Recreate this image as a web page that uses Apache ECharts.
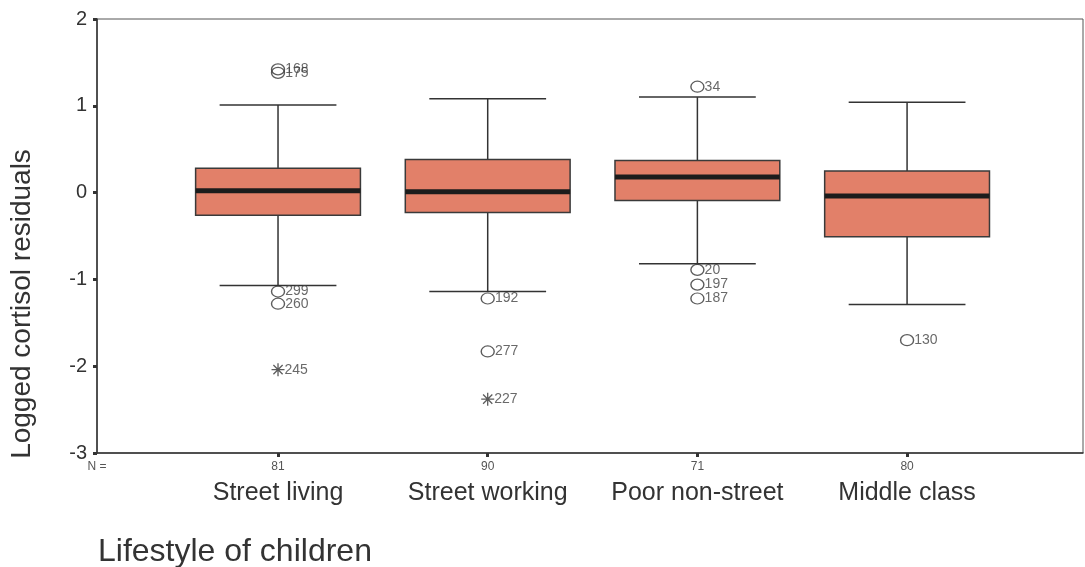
<!DOCTYPE html>
<html>
<head>
<meta charset="utf-8">
<script src="https://cdn.jsdelivr.net/npm/echarts@6/dist/echarts.min.js"></script>
<style>html,body{margin:0;padding:0;background:#fff}#c{width:1085px;height:567px}</style>
</head>
<body>
<div id="c"></div>
<script>
// ---- data ----
const categories = ['Street living', 'Street working', 'Poor non-street', 'Middle class'];
const nCounts = [81, 90, 71, 80];
const lowerWhisker = [-1.07, -1.14, -0.82, -1.29];
const q1 = [-0.26, -0.23, -0.09, -0.51];
const median = [0.02, 0.01, 0.18, -0.04];
const q3 = [0.28, 0.38, 0.37, 0.25];
const upperWhisker = [1.01, 1.08, 1.10, 1.04];
// outliers: [category index (1-based), value, case id]
const outliers = [
  [1, 1.42, '168'], [1, 1.38, '175'], [1, -1.14, '299'], [1, -1.28, '260'],
  [2, -1.22, '192'], [2, -1.83, '277'],
  [3, 1.22, '34'], [3, -0.89, '20'], [3, -1.06, '197'], [3, -1.22, '187'],
  [4, -1.70, '130']
];
const extremes = [[1, -2.04, '245'], [2, -2.38, '227']];
const yTicks = [-3, -2, -1, 0, 1, 2];

// ---- chart ----
const FONT = '"Liberation Sans", Arial, sans-serif';
const boxData = categories.map((c, i) => [i + 1, lowerWhisker[i], q1[i], median[i], q3[i], upperWhisker[i]]);
const chart = echarts.init(document.getElementById('c'));
const xMin = 0.1367, xMax = 4.839;
const star = 'path://M9,0 L11,0 L11,20 L9,20 Z M0,9 L20,9 L20,11 L0,11 Z M2.2,3.6 L3.6,2.2 L17.8,16.4 L16.4,17.8 Z M16.4,2.2 L17.8,3.6 L3.6,17.8 L2.2,16.4 Z';

chart.setOption({
  backgroundColor: '#ffffff',
  animation: false,
  grid: { left: 97, right: 2, top: 19, bottom: 114, show: true, borderColor: '#555', borderWidth: 1 },
  xAxis: {
    type: 'value', min: xMin, max: xMax,
    splitLine: { show: false },
    axisLine: { show: true, onZero: false, lineStyle: { color: '#333', width: 1.5 } },
    axisTick: { show: true, customValues: [1, 2, 3, 4], length: 4, lineStyle: { color: '#333', width: 3 } },
    axisLabel: {
      customValues: [xMin, 1, 2, 3, 4],
      showMinLabel: true, showMaxLabel: true, hideOverlap: false,
      margin: 6,
      formatter: function (v) {
        if (v < 0.5) return '{n|N =}';
        const i = Math.round(v) - 1;
        return '{n|' + nCounts[i] + '}\n{c|' + categories[i] + '}';
      },
      rich: {
        n: { fontFamily: FONT, fontSize: 12, color: '#555', lineHeight: 16, align: 'center' },
        c: { fontFamily: FONT, fontSize: 25, color: '#333', lineHeight: 36, align: 'center' }
      }
    }
  },
  yAxis: {
    type: 'value', min: -3, max: 2, interval: 1,
    splitLine: { show: false },
    axisLine: { show: true, lineStyle: { color: '#333', width: 1.5 } },
    axisTick: { show: true, length: 4, lineStyle: { color: '#333', width: 3 } },
    axisLabel: { fontFamily: FONT, fontSize: 20, color: '#333', margin: 10,
      formatter: v => yTicks.includes(v) ? String(v) : '' }
  },
  graphic: [
    { type: 'text', x: 22, y: 304, rotation: Math.PI / 2,
      style: { text: 'Logged cortisol residuals', font: '28px ' + FONT, fill: '#333', align: 'center', verticalAlign: 'middle' } },
    { type: 'text', x: 98, y: 552,
      style: { text: 'Lifestyle of children', font: '32px ' + FONT, fill: '#333', align: 'left', verticalAlign: 'middle' } }
  ],
  series: [
    {
      type: 'custom',
      data: boxData,
      encode: { x: 0, y: [1, 2, 3, 4, 5] },
      renderItem: function (params, api) {
        const x = api.value(0);
        const lo = api.coord([x, api.value(1)]);
        const b1 = api.coord([x, api.value(2)]);
        const md = api.coord([x, api.value(3)]);
        const b3 = api.coord([x, api.value(4)]);
        const hi = api.coord([x, api.value(5)]);
        const boxW = api.size([0.786, 0])[0];
        const capW = api.size([0.557, 0])[0];
        const cx = lo[0];
        const line = { stroke: '#333', lineWidth: 1.5 };
        return {
          type: 'group',
          children: [
            { type: 'line', shape: { x1: cx, y1: hi[1], x2: cx, y2: b3[1] }, style: line },
            { type: 'line', shape: { x1: cx, y1: b1[1], x2: cx, y2: lo[1] }, style: line },
            { type: 'line', shape: { x1: cx - capW / 2, y1: hi[1], x2: cx + capW / 2, y2: hi[1] }, style: line },
            { type: 'line', shape: { x1: cx - capW / 2, y1: lo[1], x2: cx + capW / 2, y2: lo[1] }, style: line },
            { type: 'rect', shape: { x: cx - boxW / 2, y: b3[1], width: boxW, height: b1[1] - b3[1] },
              style: { fill: '#e28069', stroke: '#3a3a3a', lineWidth: 1.5 } },
            { type: 'line', shape: { x1: cx - boxW / 2, y1: md[1], x2: cx + boxW / 2, y2: md[1] },
              style: { stroke: '#1c1c1c', lineWidth: 5 } }
          ]
        };
      },
      z: 2
    },
    {
      type: 'scatter',
      data: outliers,
      symbol: 'circle', symbolSize: [13, 11],
      itemStyle: { color: 'rgba(255,255,255,0)', borderColor: '#333', borderWidth: 1.3 },
      label: { show: true, position: 'right', distance: 0, fontFamily: FONT, fontSize: 14, color: '#444',
        formatter: p => p.data[2] },
      z: 3
    },
    {
      type: 'scatter',
      data: extremes,
      symbol: star, symbolSize: 13,
      itemStyle: { color: '#333' },
      label: { show: true, position: 'right', distance: 0, fontFamily: FONT, fontSize: 14, color: '#444',
        formatter: p => p.data[2] },
      z: 3
    }
  ]
});
</script>
</body>
</html>
